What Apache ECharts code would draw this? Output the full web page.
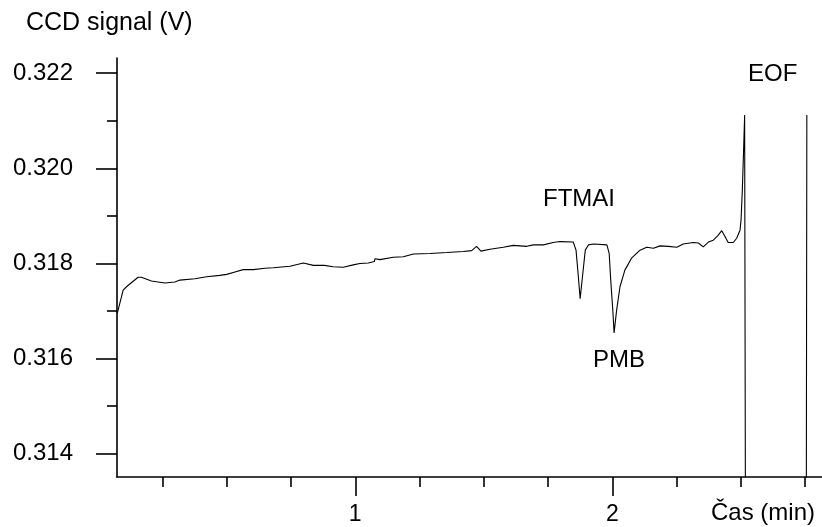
<!DOCTYPE html>
<html>
<head>
<meta charset="utf-8">
<script src="https://cdn.jsdelivr.net/npm/echarts@6/dist/echarts.min.js"></script>
<style>
html,body{margin:0;padding:0;background:#fff;}
#c{width:822px;height:527px;}
</style>
</head>
<body>
<div id="c"></div>
<script>
// ---- data ----
const time = [0.074,0.097,0.110,0.155,0.168,0.207,0.259,0.298,0.318,0.376,0.422,0.473,0.500,0.532,0.564,0.603,0.649,0.681,0.746,0.798,0.837,0.870,0.875,0.880,0.914,0.953,0.992,1.018,1.051,1.074,1.077,1.080,1.096,1.148,1.187,1.226,1.291,1.356,1.420,1.453,1.472,1.489,1.524,1.576,1.615,1.667,1.693,1.732,1.770,1.796,1.848,1.859,1.868,1.875,1.884,1.895,1.907,1.927,1.979,1.988,1.994,2.002,2.007,2.017,2.030,2.049,2.075,2.108,2.134,2.160,2.186,2.218,2.251,2.276,2.315,2.335,2.354,2.374,2.393,2.410,2.426,2.439,2.451,2.471,2.484,2.497,2.501,2.506,2.511,2.515,2.518,2.755,2.757];
const signal = [0.31695,0.31744,0.31751,0.31771,0.31771,0.31763,0.31759,0.31761,0.31765,0.31768,0.31772,0.31775,0.31777,0.31782,0.31787,0.31787,0.31790,0.31791,0.31794,0.31801,0.31796,0.31796,0.31800,0.31796,0.31793,0.31792,0.31797,0.31800,0.31801,0.31804,0.31810,0.31806,0.31808,0.31813,0.31814,0.31820,0.31821,0.31823,0.31825,0.31827,0.31836,0.31826,0.31830,0.31834,0.31838,0.31836,0.31839,0.31839,0.31844,0.31846,0.31845,0.31828,0.31772,0.31726,0.31772,0.31828,0.31839,0.31841,0.31839,0.31821,0.31765,0.31702,0.31654,0.31702,0.31751,0.31786,0.31811,0.31828,0.31834,0.31832,0.31837,0.31836,0.31834,0.31841,0.31844,0.31843,0.31835,0.31845,0.31849,0.31858,0.31869,0.31856,0.31844,0.31844,0.31853,0.31870,0.31891,0.31954,0.32039,0.32112,0.31300,0.31300,0.32112];

const xMajorTicks = [1, 2];
const xMinorTicks = [0.25, 0.5, 0.75, 1.25, 1.5, 1.75, 2.25, 2.5, 2.75];
const yMajorTicks = [0.314, 0.316, 0.318, 0.320, 0.322];
const yMinorTicks = [0.315, 0.317, 0.319, 0.321];

const yTitle = 'CCD signal (V)';
const xTitle = 'Čas (min)';
const peakLabels = ['FTMAI', 'PMB', 'EOF'];

const xMin = 0.073, xMax = 2.816;
const yMin = 0.31351, yMax = 0.32232;

const FONT = 'Liberation Sans, Arial, sans-serif';
const FS = 24;

const chart = echarts.init(document.getElementById('c'), null, {renderer: 'canvas'});

const axisLineStyle = {color: '#000', width: 1.6};

const option = {
  animation: false,
  backgroundColor: '#fff',
  grid: {left: 117, top: 58, right: 0, bottom: 50},
  xAxis: [
    {
      type: 'value', min: xMin, max: xMax,
      axisLine: {show: true, lineStyle: axisLineStyle},
      axisTick: {show: true, customValues: xMajorTicks, length: 19, lineStyle: {color: '#000', width: 1.6}},
      axisLabel: {show: true, customValues: xMajorTicks, margin: 26, color: '#000', fontSize: 23, fontFamily: FONT,
        formatter: v => String(Math.round(v))},
      splitLine: {show: false}
    },
    {
      type: 'value', min: xMin, max: xMax, position: 'bottom',
      axisLine: {show: false},
      axisTick: {show: true, customValues: xMinorTicks, length: 10, lineStyle: {color: '#000', width: 1.6}},
      axisLabel: {show: false},
      splitLine: {show: false}
    }
  ],
  yAxis: [
    {
      type: 'value', min: yMin, max: yMax,
      axisLine: {show: true, lineStyle: axisLineStyle},
      axisTick: {show: true, customValues: yMajorTicks, length: 21, lineStyle: {color: '#000', width: 1.6}},
      axisLabel: {show: true, customValues: yMajorTicks, margin: 44, color: '#000', fontSize: FS, fontFamily: FONT,
        formatter: v => v.toFixed(3)},
      splitLine: {show: false}
    },
    {
      type: 'value', min: yMin, max: yMax, position: 'left',
      axisLine: {show: false},
      axisTick: {show: true, customValues: yMinorTicks, length: 10, lineStyle: {color: '#000', width: 1.6}},
      axisLabel: {show: false},
      splitLine: {show: false}
    }
  ],
  series: [
    {
      type: 'line',
      xAxisIndex: 0, yAxisIndex: 0,
      data: time.map((t, i) => [t, signal[i]]),
      showSymbol: false,
      symbol: 'none',
      smooth: false,
      clip: true,
      lineStyle: {color: '#000', width: 1.1}
    }
  ],
  graphic: [
    {type: 'text', left: 26, top: 11, style: {text: yTitle, fontSize: 25, fontFamily: FONT, fill: '#000'}},
    {type: 'text', left: 711, top: 501, style: {text: xTitle, fontSize: FS, fontFamily: FONT, fill: '#000'}},
    {type: 'text', left: 543, top: 187, style: {text: peakLabels[0], fontSize: FS, fontFamily: FONT, fill: '#000'}},
    {type: 'text', left: 593, top: 348, style: {text: peakLabels[1], fontSize: FS, fontFamily: FONT, fill: '#000'}},
    {type: 'text', left: 748, top: 62, style: {text: peakLabels[2], fontSize: FS, fontFamily: FONT, fill: '#000'}}
  ]
};
chart.setOption(option);
</script>
</body>
</html>
